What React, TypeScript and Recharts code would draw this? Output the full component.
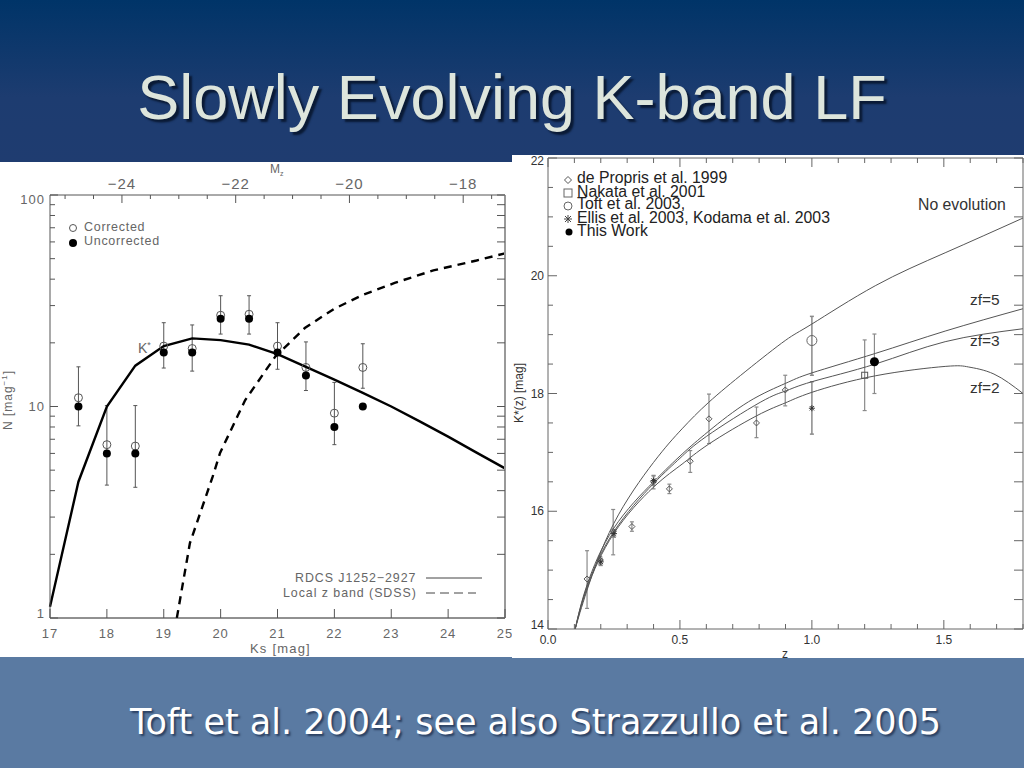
import React from "react";
import { ComposedChart, Line, XAxis, YAxis, ErrorBar } from "recharts";

// ---------- Left panel data ----------
const ksPoints = [17.5, 18, 18.5, 19, 19.5, 20, 20.5, 21, 21.5, 22, 22.5];
const correctedN = [11, 6.6, 6.5, 19.3, 18.8, 27, 27.3, 19.3, 15.3, 9.3, 15.3];
const uncorrectedN = [10, 6, 6, 18, 18, 26, 26, 18, 14, 8, 10];
const errTopN = [15.4, 10.1, 10.1, 24.9, 24.3, 33.4, 33.4, 24.9, 20.2, 13, 19.8];
const errBottomN = [8.1, 4.25, 4.15, 15.2, 14.7, 22, 22, 15, 11.9, 6.6, 12.2];

const rdcsKs = [17, 17.5, 18, 18.5, 19, 19.5, 20, 20.5, 21, 21.5, 22, 22.5, 23, 23.5, 24, 24.5, 25];
const rdcsN = [1.13, 4.41, 10, 15.6, 19.3, 21, 20.6, 19.6, 17.7, 15.4, 13.4, 11.6, 10, 8.5, 7.2, 6.05, 5.1];
const sdssKs = [19.23, 19.46, 19.86, 19.99, 20.43, 20.96, 21.48, 22, 22.5, 23.06, 23.74, 24.5, 25];
const sdssN = [1, 2.26, 4.66, 6.03, 10.7, 17.2, 23.5, 29, 33.7, 38.4, 44, 49, 53];

const ksTicks = [17, 18, 19, 20, 21, 22, 23, 24, 25];
const mzTicks = [-25, -24.5, -24, -23.5, -23, -22.5, -22, -21.5, -21, -20.5, -20, -19.5, -19, -18.5, -18, -17.5];
const mzMajor = [-24, -22, -20, -18];
const nTicks = [1, 2, 3, 4, 5, 6, 7, 8, 9, 10, 20, 30, 40, 50, 60, 70, 80, 90, 100];
const nMajor = [1, 10, 100];

// ---------- Right panel data ----------
const noEvoZ = [0.103, 0.148, 0.249, 0.4, 0.508, 0.609, 0.75, 0.899, 1, 1.24, 1.505, 1.8];
const noEvoK = [14, 14.66, 15.79, 16.83, 17.4, 17.85, 18.38, 18.9, 19.18, 19.83, 20.39, 20.98];
const zf5Z = [0.103, 0.148, 0.249, 0.4, 0.508, 0.609, 0.76, 0.899, 1, 1.24, 1.505, 1.8];
const zf5K = [14, 14.75, 15.71, 16.5, 16.97, 17.36, 17.86, 18.17, 18.35, 18.68, 19.06, 19.44];
const zf3Z = [0.103, 0.148, 0.249, 0.4, 0.5, 0.6, 0.804, 0.899, 1, 1.24, 1.505, 1.8];
const zf3K = [14, 14.72, 15.65, 16.47, 16.9, 17.27, 17.85, 18.04, 18.2, 18.5, 18.88, 19.1];
const zf2Z = [0.103, 0.148, 0.249, 0.4, 0.508, 0.609, 0.79, 0.899, 1, 1.24, 1.505, 1.594, 1.69, 1.8];
const zf2K = [14, 14.69, 15.62, 16.41, 16.8, 17.14, 17.62, 17.84, 18.02, 18.3, 18.46, 18.45, 18.33, 18.0];

const proprisZ = [0.148, 0.198, 0.247, 0.318, 0.4, 0.46, 0.539, 0.61, 0.79, 0.899];
const proprisK = [14.85, 15.17, 15.66, 15.74, 16.5, 16.38, 16.85, 17.57, 17.5, 18.06];
const proprisTop = [15.33, 15.23, 16.03, 15.82, 16.61, 16.46, 17.03, 17.99, 17.77, 18.31];
const proprisBottom = [14.35, 15.09, 15.26, 15.66, 16.38, 16.3, 16.66, 17.15, 17.25, 17.79];

const nakataZ = [1.2];
const nakataK = [18.31];
const nakataTop = [18.91];
const nakataBottom = [17.71];
const toftZ = [1.0];
const toftK = [18.9];
const toftTop = [19.31];
const toftBottom = [18.31];
const ellisZ = [0.2, 0.25, 0.4, 1.0];
const ellisK = [15.14, 15.62, 16.52, 17.75];
const ellisTop = [15.2, 15.68, 16.6, 18.2];
const ellisBottom = [15.08, 15.56, 16.44, 17.31];
const workZ = [1.237];
const workK = [18.54];
const workTop = [19.01];
const workBottom = [18.0];

const zTicks = [0, 0.1, 0.2, 0.3, 0.4, 0.5, 0.6, 0.7, 0.8, 0.9, 1, 1.1, 1.2, 1.3, 1.4, 1.5, 1.6, 1.7, 1.8];
const zMajor = [0, 0.5, 1, 1.5];
const kTicks = [14, 14.5, 15, 15.5, 16, 16.5, 17, 17.5, 18, 18.5, 19, 19.5, 20, 20.5, 21, 21.5, 22];
const kMajor = [14, 16, 18, 20, 22];

// ---------- Helpers ----------
const curve = (xs: number[], ys: number[]) => xs.map((x, i) => ({ x, y: ys[i] }));
const points = (xs: number[], ys: number[], top: number[], bottom: number[]) =>
  xs.map((x, i) => ({ x, y: ys[i], err: [ys[i] - bottom[i], top[i] - ys[i]] }));

const AXIS_L = "#555";
const TXT_L = "#666";
const AXIS_R = "#666";
const TXT_R = "#333";

type TickOpts = {
  side: "top" | "bottom" | "left" | "right";
  major: number[];
  majorLen: number;
  minorLen: number;
  stroke: string;
  fill: string;
  fontSize: number;
  gap: number;
  spacing?: number;
  format?: (v: number) => string;
  nudge?: (v: number) => number;
  label?: boolean;
};

const makeTick = (o: TickOpts) => (p: any) => {
  const v = Number(p.payload.value);
  const isMajor = o.major.some((m) => Math.abs(m - v) < 1e-6);
  const len = isMajor ? o.majorLen : o.minorLen;
  const x = p.x;
  const y = p.y;
  const dx = o.side === "left" ? len : o.side === "right" ? -len : 0;
  const dy = o.side === "top" ? len : o.side === "bottom" ? -len : 0;
  const showText = isMajor && o.label !== false;
  const tx = o.side === "left" ? x - o.gap : x;
  const ty =
    o.side === "bottom" ? y + o.gap : o.side === "top" ? y - o.gap : y + (o.nudge ? o.nudge(v) : 0);
  return (
    <g>
      <line x1={x} y1={y} x2={x + dx} y2={y + dy} stroke={o.stroke} strokeWidth={1} />
      {showText && (
        <text
          x={tx}
          y={ty}
          textAnchor={o.side === "left" ? "end" : "middle"}
          dominantBaseline="central"
          fontSize={o.fontSize}
          fill={o.fill}
          letterSpacing={o.spacing ?? 0}
          fontFamily="'Liberation Sans', sans-serif"
        >
          {o.format ? o.format(v) : String(v)}
        </text>
      )}
    </g>
  );
};

const openCircle = (r: number, stroke: string) => (p: any) =>
  <circle key={p.index} cx={p.cx} cy={p.cy} r={r} fill="none" stroke={stroke} strokeWidth={1} />;
const filledCircle = (r: number) => (p: any) =>
  <circle key={p.index} cx={p.cx} cy={p.cy} r={r} fill="#000" stroke="none" />;
const diamond = (p: any) => (
  <path key={p.index} d={`M${p.cx} ${p.cy - 3}L${p.cx + 3} ${p.cy}L${p.cx} ${p.cy + 3}L${p.cx - 3} ${p.cy}Z`} fill="none" stroke="#555" strokeWidth={1} />
);
const square = (p: any) => (
  <rect key={p.index} x={p.cx - 3} y={p.cy - 3} width={6} height={6} fill="none" stroke="#555" strokeWidth={1} />
);
const asterisk = (p: any) => (
  <path key={p.index} d={`M${p.cx - 3} ${p.cy}H${p.cx + 3}M${p.cx} ${p.cy - 3}V${p.cy + 3}M${p.cx - 2.2} ${p.cy - 2.2}L${p.cx + 2.2} ${p.cy + 2.2}M${p.cx - 2.2} ${p.cy + 2.2}L${p.cx + 2.2} ${p.cy - 2.2}`} fill="none" stroke="#333" strokeWidth={1} />
);

const Note = ({ x, y, size, color, font, children, spacing }: any) => (
  <div
    style={{
      position: "absolute",
      left: x,
      top: y,
      transform: "translateY(-50%)",
      whiteSpace: "nowrap",
      fontSize: size,
      color,
      fontFamily: font ?? "'Liberation Sans', sans-serif",
      letterSpacing: spacing ?? 0,
      lineHeight: 1,
    }}
  >
    {children}
  </div>
);

const Glyph = ({ x, y, children }: any) => (
  <svg width={12} height={12} viewBox="-6 -6 12 12" style={{ position: "absolute", left: x - 6, top: y - 6 }}>
    {children}
  </svg>
);

const errStroke = "#555";
const errStrokeR = "#8a8a8a";

export default function App() {
  const leftTickBase = { stroke: AXIS_L, fill: TXT_L, fontSize: 13, spacing: 1 };
  const rightTickBase = { stroke: AXIS_R, fill: TXT_R, fontSize: 12 };
  return (
    <div style={{ position: "absolute", left: 0, top: 0, width: 1024, height: 768, overflow: "hidden", background: "#5a7aa2" }}>
      <div style={{ position: "absolute", left: 0, top: 0, width: 1024, height: 162, background: "linear-gradient(#003468 0%, #1d3c70 60%, #1f3c70 100%)" }} />
      <div
        style={{
          position: "absolute",
          left: 0,
          width: 1024,
          top: 60,
          textAlign: "center",
          fontFamily: "'Liberation Sans', sans-serif",
          fontSize: 63,
          lineHeight: "74px",
          color: "#dde5dc",
          textShadow: "3px 3px 2px #0a1a35",
          whiteSpace: "nowrap",
        }}
      >
        Slowly Evolving K-band LF
      </div>
      <div
        style={{
          position: "absolute",
          left: 130,
          top: 702,
          fontFamily: "'DejaVu Sans', sans-serif",
          fontSize: 35,
          lineHeight: "40px",
          color: "#ffffff",
          textShadow: "2px 2px 2px #2a3f60",
          whiteSpace: "nowrap",
        }}
      >
        Toft et al. 2004; see also Strazzullo et al. 2005
      </div>

      {/* Left panel */}
      <div style={{ position: "absolute", left: 0, top: 162, width: 512, height: 495, background: "#fff" }}>
        <ComposedChart width={512} height={495} margin={{ top: 0, right: 0, bottom: 0, left: 0 }}>
          <XAxis
            dataKey="x"
            type="number"
            domain={[17, 25]}
            ticks={ksTicks}
            interval={0}
            height={39}
            tickSize={0}
            tickMargin={0}
            tickLine={false}
            axisLine={{ stroke: "#222", strokeWidth: 1 }}
            tick={makeTick({ ...leftTickBase, side: "bottom", major: ksTicks, majorLen: 9, minorLen: 9, gap: 15 })}
          />
          <XAxis
            xAxisId="top"
            dataKey="x"
            orientation="top"
            type="number"
            domain={[-25.265, -17.265]}
            ticks={mzTicks}
            interval={0}
            height={33}
            tickSize={0}
            tickMargin={0}
            tickLine={false}
            axisLine={{ stroke: AXIS_L, strokeWidth: 1 }}
            tick={makeTick({ ...leftTickBase, fontSize: 15, side: "top", major: mzMajor, majorLen: 8, minorLen: 4, gap: 12, format: (v) => `\u2212${Math.abs(v)}` })}
          />
          <YAxis
            dataKey="y"
            type="number"
            scale="log"
            domain={[1, 100]}
            ticks={nTicks}
            interval={0}
            width={50}
            allowDataOverflow
            tickSize={0}
            tickMargin={0}
            tickLine={false}
            axisLine={{ stroke: AXIS_L, strokeWidth: 1 }}
            tick={makeTick({ ...leftTickBase, side: "left", major: nMajor, majorLen: 8, minorLen: 5, gap: 5, nudge: (v) => (v === 100 ? 4 : v === 1 ? -5 : 0) })}
          />
          <YAxis
            yAxisId="right"
            dataKey="y"
            orientation="right"
            type="number"
            scale="log"
            domain={[1, 100]}
            ticks={nTicks}
            interval={0}
            width={7}
            tickSize={0}
            tickMargin={0}
            tickLine={false}
            axisLine={{ stroke: "#999", strokeWidth: 2 }}
            tick={makeTick({ ...leftTickBase, side: "right", major: nMajor, majorLen: 8, minorLen: 8, gap: 0, label: false })}
          />
          {/* invisible series that keeps the secondary axes populated */}
          <Line xAxisId="top" yAxisId="right" data={curve(mzMajor, mzMajor.map(() => 10))} dataKey="y" stroke="none" dot={false} activeDot={false} isAnimationActive={false} />
          <Line data={points(ksPoints, correctedN, errTopN, errBottomN)} dataKey="y" stroke="none" isAnimationActive={false} dot={openCircle(4, "#555")} activeDot={false}>
            <ErrorBar dataKey="err" direction="y" width={2} stroke={errStroke} strokeWidth={1} isAnimationActive={false} />
          </Line>
          <Line data={curve(rdcsKs, rdcsN)} dataKey="y" stroke="#000" strokeWidth={2.4} dot={false} activeDot={false} isAnimationActive={false} />
          <Line data={curve(sdssKs, sdssN)} dataKey="y" stroke="#000" strokeWidth={2.4} strokeDasharray="8 6" dot={false} activeDot={false} isAnimationActive={false} />
          <Line data={curve(ksPoints, uncorrectedN)} dataKey="y" stroke="none" isAnimationActive={false} dot={filledCircle(4)} activeDot={false} />
        </ComposedChart>
        <Note x={84} y={65} size={12.5} color={TXT_L} spacing={0.7}>Corrected</Note>
        <Note x={84} y={79} size={12.5} color={TXT_L} spacing={0.7}>Uncorrected</Note>
        <Glyph x={73} y={66}><circle r={3.5} fill="none" stroke="#555" /></Glyph>
        <Glyph x={73} y={81}><circle r={4} fill="#000" /></Glyph>
        <Note x={138} y={186} size={14} color={TXT_L}>K<span style={{ fontSize: 9, verticalAlign: "super" }}>*</span></Note>
        <Note x={270} y={8} size={12} color={TXT_L}>M<span style={{ fontSize: 7, verticalAlign: "sub" }}>z</span></Note>
        <Note x={250} y={486} size={13} color={TXT_L} spacing={1.2}>Ks [mag]</Note>
        <Note x={295} y={416} size={12.4} color={TXT_L} spacing={0.95}>RDCS J1252{"\u2212"}2927</Note>
        <Note x={283} y={431} size={12.4} color={TXT_L} spacing={0.95}>Local z band (SDSS)</Note>
        <svg width={60} height={30} style={{ position: "absolute", left: 424, top: 408 }}>
          <line x1={2} x2={58} y1={8} y2={8} stroke="#444" strokeWidth={1} />
          <line x1={2} x2={52} y1={23} y2={23} stroke="#444" strokeWidth={1} strokeDasharray="9 5" />
        </svg>
        <div style={{ position: "absolute", left: 8, top: 238, transform: "translate(-50%,-50%) rotate(-90deg)", whiteSpace: "nowrap", fontFamily: "'Liberation Sans', sans-serif", fontSize: 12, letterSpacing: 1, color: TXT_L }}>
          N [mag<sup style={{ fontSize: 8, lineHeight: 0 }}>{"\u2212"}1</sup>]
        </div>
      </div>

      {/* Right panel */}
      <div style={{ position: "absolute", left: 512, top: 155, width: 512, height: 503, background: "#fff" }}>
        <ComposedChart width={512} height={503} margin={{ top: 0, right: 0, bottom: 0, left: 0 }}>
          <XAxis
            dataKey="x"
            type="number"
            domain={[0, 1.8]}
            ticks={zTicks}
            interval={0}
            height={29}
            tickSize={0}
            tickMargin={0}
            tickLine={false}
            axisLine={{ stroke: AXIS_R, strokeWidth: 1 }}
            tick={makeTick({ ...rightTickBase, side: "bottom", major: zMajor, majorLen: 9, minorLen: 5, gap: 11, format: (v) => v.toFixed(1) })}
          />
          <XAxis
            xAxisId="top"
            dataKey="x"
            orientation="top"
            type="number"
            domain={[0, 1.8]}
            ticks={zTicks}
            interval={0}
            height={3}
            tickSize={0}
            tickMargin={0}
            tickLine={false}
            axisLine={{ stroke: AXIS_R, strokeWidth: 1 }}
            tick={makeTick({ ...rightTickBase, side: "top", major: zMajor, majorLen: 9, minorLen: 5, gap: 0, label: false })}
          />
          <YAxis
            dataKey="y"
            type="number"
            domain={[14, 22]}
            ticks={kTicks}
            interval={0}
            width={36}
            tickSize={0}
            tickMargin={0}
            tickLine={false}
            axisLine={{ stroke: AXIS_R, strokeWidth: 1 }}
            tick={makeTick({ ...rightTickBase, side: "left", major: kMajor, majorLen: 9, minorLen: 5, gap: 4, nudge: (v) => (v === 22 ? 3 : v === 14 ? -4 : 0) })}
          />
          <YAxis
            yAxisId="right"
            dataKey="y"
            orientation="right"
            type="number"
            domain={[14, 22]}
            ticks={kTicks}
            interval={0}
            width={1}
            tickSize={0}
            tickMargin={0}
            tickLine={false}
            axisLine={{ stroke: AXIS_R, strokeWidth: 1 }}
            tick={makeTick({ ...rightTickBase, side: "right", major: kMajor, majorLen: 9, minorLen: 9, gap: 0, label: false })}
          />
          {/* invisible series that keeps the secondary axes populated */}
          <Line xAxisId="top" yAxisId="right" data={curve(zMajor, kMajor.slice(0, 4))} dataKey="y" stroke="none" dot={false} activeDot={false} isAnimationActive={false} />
          <Line data={points(proprisZ, proprisK, proprisTop, proprisBottom)} dataKey="y" stroke="none" isAnimationActive={false} dot={diamond} activeDot={false}>
            <ErrorBar dataKey="err" direction="y" width={2} stroke={errStrokeR} strokeWidth={1.2} isAnimationActive={false} />
          </Line>
          <Line data={points(nakataZ, nakataK, nakataTop, nakataBottom)} dataKey="y" stroke="none" isAnimationActive={false} dot={square} activeDot={false}>
            <ErrorBar dataKey="err" direction="y" width={2} stroke={errStrokeR} strokeWidth={1.2} isAnimationActive={false} />
          </Line>
          <Line data={points(toftZ, toftK, toftTop, toftBottom)} dataKey="y" stroke="none" isAnimationActive={false} dot={openCircle(5, "#666")} activeDot={false}>
            <ErrorBar dataKey="err" direction="y" width={2} stroke={errStrokeR} strokeWidth={1.5} isAnimationActive={false} />
          </Line>
          <Line data={points(ellisZ, ellisK, ellisTop, ellisBottom)} dataKey="y" stroke="none" isAnimationActive={false} dot={asterisk} activeDot={false}>
            <ErrorBar dataKey="err" direction="y" width={2} stroke={errStrokeR} strokeWidth={1.5} isAnimationActive={false} />
          </Line>
          <Line data={points(workZ, workK, workTop, workBottom)} dataKey="y" stroke="none" isAnimationActive={false} dot={filledCircle(4.5)} activeDot={false}>
            <ErrorBar dataKey="err" direction="y" width={2} stroke={errStrokeR} strokeWidth={1.2} isAnimationActive={false} />
          </Line>
          <Line type="natural" data={curve(noEvoZ, noEvoK)} dataKey="y" stroke="#555" strokeWidth={1} dot={false} activeDot={false} isAnimationActive={false} />
          <Line type="natural" data={curve(zf5Z, zf5K)} dataKey="y" stroke="#555" strokeWidth={1} dot={false} activeDot={false} isAnimationActive={false} />
          <Line type="natural" data={curve(zf3Z, zf3K)} dataKey="y" stroke="#555" strokeWidth={1} dot={false} activeDot={false} isAnimationActive={false} />
          <Line type="natural" data={curve(zf2Z, zf2K)} dataKey="y" stroke="#555" strokeWidth={1} dot={false} activeDot={false} isAnimationActive={false} />
        </ComposedChart>
        <Note x={65} y={23} size={15.8} color="#222">de Propris et al. 1999</Note>
        <Note x={65} y={37} size={15.8} color="#222">Nakata et al. 2001</Note>
        <Note x={65} y={49} size={15.8} color="#222">Toft et al. 2003,</Note>
        <Note x={65} y={63} size={15.8} color="#222">Ellis et al. 2003, Kodama et al. 2003</Note>
        <Note x={65} y={76} size={15.8} color="#222">This Work</Note>
        <Glyph x={56} y={25}><path d="M0 -3.5L3.5 0L0 3.5L-3.5 0Z" fill="none" stroke="#555" /></Glyph>
        <Glyph x={56} y={38}><rect x={-4} y={-4} width={8} height={8} fill="none" stroke="#666" /></Glyph>
        <Glyph x={56} y={51}><circle r={4} fill="none" stroke="#666" /></Glyph>
        <Glyph x={56} y={64}><path d="M-4 0H4M0 -4V4M-3 -3L3 3M-3 3L3 -3" fill="none" stroke="#444" /></Glyph>
        <Glyph x={57} y={77}><circle r={3.5} fill="#000" /></Glyph>
        <Note x={406} y={50} size={15.8} color="#333">No evolution</Note>
        <Note x={458} y={145} size={15.5} color="#333">zf=5</Note>
        <Note x={458} y={186} size={15.5} color="#333">zf=3</Note>
        <Note x={458} y={233} size={15.5} color="#333">zf=2</Note>
        <Note x={270} y={499} size={12} color="#333">z</Note>
        <div style={{ position: "absolute", left: 7, top: 238, transform: "translate(-50%,-50%) rotate(-90deg)", whiteSpace: "nowrap", fontFamily: "'Liberation Sans', sans-serif", fontSize: 12, color: "#333" }}>
          K*(z) [mag]
        </div>
      </div>
    </div>
  );
}
